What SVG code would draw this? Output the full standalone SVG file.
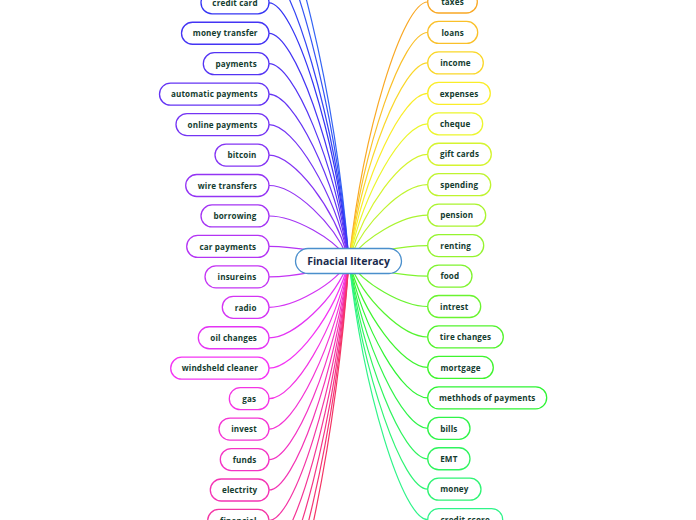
<svg xmlns="http://www.w3.org/2000/svg" width="696" height="520" viewBox="0 0 696 520">
<style>
.bg{fill:#ffffff}
.c path{fill:none;stroke-width:1.2}
.n rect{fill:#ffffff;stroke-width:1.3}
.n text{font-family:"Open Sans","Noto Sans","DejaVu Sans",sans-serif;font-weight:700;font-size:8.1px;letter-spacing:0.15px;fill:#143d30;text-anchor:middle}
#root rect{fill:#ffffff;stroke:#4a8fcc;stroke-width:1.3}
#root text{font-family:"Open Sans","Noto Sans","DejaVu Sans",sans-serif;font-weight:700;font-size:10.5px;fill:#1a2b4c;text-anchor:middle}
</style>
<rect class="bg" x="0" y="0" width="696" height="520"/>
<g id="connectors" class="c">
<path stroke="hsl(225,90%,58%)" d="M269 -88.6C290 -88.6 335 86.2 349 261"/>
<path stroke="hsl(230,90%,58%)" d="M269 -58.1C290 -58.1 335 101.5 349 261"/>
<path stroke="hsl(235,90%,58%)" d="M269 -27.7C290 -27.7 335 116.7 349 261"/>
<path stroke="hsl(240,90%,58%)" d="M269 2.8C294 2.8 335 131.9 349 261"/>
<path stroke="hsl(245,90%,58%)" d="M269 33.3C294 33.3 335 147.1 349 261"/>
<path stroke="hsl(250,90%,58%)" d="M269 63.7C294 63.7 335 162.4 349 261"/>
<path stroke="hsl(255,90%,58%)" d="M269 94.2C294 94.2 335 177.6 349 261"/>
<path stroke="hsl(260,90%,58%)" d="M269 124.6C294 124.6 335 192.8 349 261"/>
<path stroke="hsl(265,90%,58%)" d="M269 155.1C294 155.1 335 208 349 261"/>
<path stroke="hsl(270,90%,58%)" d="M269 185.5C294 185.5 335 223.3 349 261"/>
<path stroke="hsl(275,90%,58%)" d="M269 216C294 216 335 238.5 349 261"/>
<path stroke="hsl(280,90%,58%)" d="M269 246.4C294 246.4 335 253.7 349 261"/>
<path stroke="hsl(285,90%,58%)" d="M269 276.9C294 276.9 335 268.9 349 261"/>
<path stroke="hsl(290,90%,58%)" d="M269 307.3C294 307.3 335 284.2 349 261"/>
<path stroke="hsl(295,90%,58%)" d="M269 337.8C294 337.8 335 299.4 349 261"/>
<path stroke="hsl(300,90%,58%)" d="M269 368.2C294 368.2 335 314.6 349 261"/>
<path stroke="hsl(305,90%,58%)" d="M269 398.7C294 398.7 335 329.8 349 261"/>
<path stroke="hsl(310,90%,58%)" d="M269 429.1C294 429.1 335 345.1 349 261"/>
<path stroke="hsl(315,90%,58%)" d="M269 459.6C294 459.6 335 360.3 349 261"/>
<path stroke="hsl(320,90%,58%)" d="M269 490C294 490 335 375.5 349 261"/>
<path stroke="hsl(325,90%,58%)" d="M269 520.5C294 520.5 335 390.7 349 261"/>
<path stroke="hsl(330,90%,58%)" d="M269 550.9C294 550.9 335 406 349 261"/>
<path stroke="hsl(335,90%,58%)" d="M269 581.4C294 581.4 335 421.2 349 261"/>
<path stroke="hsl(340,90%,58%)" d="M269 611.8C294 611.8 335 436.4 349 261"/>
<path stroke="hsl(345,90%,58%)" d="M269 642.3C294 642.3 335 451.6 349 261"/>
<path stroke="hsl(37,95%,56%)" d="M427.7 2C402.7 2 363 131.5 349 261"/>
<path stroke="hsl(43.5,95%,57%)" d="M427.7 32.5C402.7 32.5 363 146.7 349 261"/>
<path stroke="hsl(50,95%,57%)" d="M427.7 62.9C402.7 62.9 363 162 349 261"/>
<path stroke="hsl(56.5,95%,57%)" d="M427.7 93.4C402.7 93.4 363 177.2 349 261"/>
<path stroke="hsl(63,92%,57%)" d="M427.7 123.8C402.7 123.8 363 192.4 349 261"/>
<path stroke="hsl(69.5,90%,57%)" d="M427.7 154.3C402.7 154.3 363 207.6 349 261"/>
<path stroke="hsl(76,90%,57%)" d="M427.7 184.7C402.7 184.7 363 222.9 349 261"/>
<path stroke="hsl(82.5,90%,57%)" d="M427.7 215.2C402.7 215.2 363 238.1 349 261"/>
<path stroke="hsl(89,90%,57%)" d="M427.7 245.6C402.7 245.6 363 253.3 349 261"/>
<path stroke="hsl(95.5,90%,57%)" d="M427.7 276.1C402.7 276.1 363 268.5 349 261"/>
<path stroke="hsl(102,90%,57%)" d="M427.7 306.5C402.7 306.5 363 283.8 349 261"/>
<path stroke="hsl(108.5,90%,57%)" d="M427.7 337C402.7 337 363 299 349 261"/>
<path stroke="hsl(115,90%,57%)" d="M427.7 367.4C402.7 367.4 363 314.2 349 261"/>
<path stroke="hsl(121.5,90%,57%)" d="M427.7 397.9C402.7 397.9 363 329.4 349 261"/>
<path stroke="hsl(128,90%,57%)" d="M427.7 428.3C402.7 428.3 363 344.7 349 261"/>
<path stroke="hsl(134.5,90%,57%)" d="M427.7 458.8C402.7 458.8 363 359.9 349 261"/>
<path stroke="hsl(141,90%,57%)" d="M427.7 489.2C402.7 489.2 363 375.1 349 261"/>
<path stroke="hsl(147.5,90%,57%)" d="M427.7 519.7C402.7 519.7 363 390.3 349 261"/>
</g>
<g id="n-credit-card" class="n"><rect x="201" y="-8.2" width="68" height="22" rx="11" stroke="hsl(240,90%,58%)"/><text x="235" y="6">credit card</text></g>
<g id="n-money-transfer" class="n"><rect x="181.5" y="22.25" width="87.5" height="22" rx="11" stroke="hsl(245,90%,58%)"/><text x="225.25" y="36.45">money transfer</text></g>
<g id="n-payments" class="n"><rect x="203.3" y="52.7" width="65.7" height="22" rx="11" stroke="hsl(250,90%,58%)"/><text x="236.15" y="66.9">payments</text></g>
<g id="n-automatic-payments" class="n"><rect x="159.5" y="83.15" width="109.5" height="22" rx="11" stroke="hsl(255,90%,58%)"/><text x="214.25" y="97.35">automatic payments</text></g>
<g id="n-online-payments" class="n"><rect x="176" y="113.6" width="93" height="22" rx="11" stroke="hsl(260,90%,58%)"/><text x="222.5" y="127.8">online payments</text></g>
<g id="n-bitcoin" class="n"><rect x="215" y="144.05" width="54" height="22" rx="11" stroke="hsl(265,90%,58%)"/><text x="242" y="158.25">bitcoin</text></g>
<g id="n-wire-transfers" class="n"><rect x="185.7" y="174.5" width="83.3" height="22" rx="11" stroke="hsl(270,90%,58%)"/><text x="227.35" y="188.7">wire transfers</text></g>
<g id="n-borrowing" class="n"><rect x="201" y="204.95" width="68" height="22" rx="11" stroke="hsl(275,90%,58%)"/><text x="235" y="219.15">borrowing</text></g>
<g id="n-car-payments" class="n"><rect x="186.7" y="235.4" width="82.3" height="22" rx="11" stroke="hsl(280,90%,58%)"/><text x="227.85" y="249.6">car payments</text></g>
<g id="n-insureins" class="n"><rect x="205" y="265.85" width="64" height="22" rx="11" stroke="hsl(285,90%,58%)"/><text x="237" y="280.05">insureins</text></g>
<g id="n-radio" class="n"><rect x="222.3" y="296.3" width="46.7" height="22" rx="11" stroke="hsl(290,90%,58%)"/><text x="245.65" y="310.5">radio</text></g>
<g id="n-oil-changes" class="n"><rect x="198.3" y="326.75" width="70.7" height="22" rx="11" stroke="hsl(295,90%,58%)"/><text x="233.65" y="340.95">oil changes</text></g>
<g id="n-windsheld-cleaner" class="n"><rect x="170.7" y="357.2" width="98.3" height="22" rx="11" stroke="hsl(300,90%,58%)"/><text x="219.85" y="371.4">windsheld cleaner</text></g>
<g id="n-gas" class="n"><rect x="229.3" y="387.65" width="39.7" height="22" rx="11" stroke="hsl(305,90%,58%)"/><text x="249.15" y="401.85">gas</text></g>
<g id="n-invest" class="n"><rect x="219" y="418.1" width="50" height="22" rx="11" stroke="hsl(310,90%,58%)"/><text x="244" y="432.3">invest</text></g>
<g id="n-funds" class="n"><rect x="220.3" y="448.55" width="48.7" height="22" rx="11" stroke="hsl(315,90%,58%)"/><text x="244.65" y="462.75">funds</text></g>
<g id="n-electrity" class="n"><rect x="210.3" y="479" width="58.7" height="22" rx="11" stroke="hsl(320,90%,58%)"/><text x="239.65" y="493.2">electrity</text></g>
<g id="n-financial" class="n"><rect x="207.7" y="509.45" width="61.3" height="22" rx="11" stroke="hsl(325,90%,58%)"/><text x="238.35" y="523.65">financial</text></g>
<g id="n-taxes" class="n"><rect x="427.7" y="-9" width="49.6" height="22" rx="11" stroke="hsl(37,95%,56%)"/><text x="452.5" y="5.2">taxes</text></g>
<g id="n-loans" class="n"><rect x="427.7" y="21.45" width="50" height="22" rx="11" stroke="hsl(43.5,95%,57%)"/><text x="452.7" y="35.65">loans</text></g>
<g id="n-income" class="n"><rect x="427.7" y="51.9" width="55.6" height="22" rx="11" stroke="hsl(50,95%,57%)"/><text x="455.5" y="66.1">income</text></g>
<g id="n-expenses" class="n"><rect x="427.7" y="82.35" width="62.6" height="22" rx="11" stroke="hsl(56.5,95%,57%)"/><text x="459" y="96.55">expenses</text></g>
<g id="n-cheque" class="n"><rect x="427.7" y="112.8" width="55" height="22" rx="11" stroke="hsl(63,92%,57%)"/><text x="455.2" y="127">cheque</text></g>
<g id="n-gift-cards" class="n"><rect x="427.7" y="143.25" width="63.6" height="22" rx="11" stroke="hsl(69.5,90%,57%)"/><text x="459.5" y="157.45">gift cards</text></g>
<g id="n-spending" class="n"><rect x="427.7" y="173.7" width="63" height="22" rx="11" stroke="hsl(76,90%,57%)"/><text x="459.2" y="187.9">spending</text></g>
<g id="n-pension" class="n"><rect x="427.7" y="204.15" width="58" height="22" rx="11" stroke="hsl(82.5,90%,57%)"/><text x="456.7" y="218.35">pension</text></g>
<g id="n-renting" class="n"><rect x="427.7" y="234.6" width="56" height="22" rx="11" stroke="hsl(89,90%,57%)"/><text x="455.7" y="248.8">renting</text></g>
<g id="n-food" class="n"><rect x="427.7" y="265.05" width="44.3" height="22" rx="11" stroke="hsl(95.5,90%,57%)"/><text x="449.85" y="279.25">food</text></g>
<g id="n-intrest" class="n"><rect x="427.7" y="295.5" width="53" height="22" rx="11" stroke="hsl(102,90%,57%)"/><text x="454.2" y="309.7">intrest</text></g>
<g id="n-tire-changes" class="n"><rect x="427.7" y="325.95" width="75.6" height="22" rx="11" stroke="hsl(108.5,90%,57%)"/><text x="465.5" y="340.15">tire changes</text></g>
<g id="n-mortgage" class="n"><rect x="427.7" y="356.4" width="65.6" height="22" rx="11" stroke="hsl(115,90%,57%)"/><text x="460.5" y="370.6">mortgage</text></g>
<g id="n-methhods-of-payments" class="n"><rect x="427.7" y="386.85" width="119" height="22" rx="11" stroke="hsl(121.5,90%,57%)"/><text x="487.2" y="401.05">methhods of payments</text></g>
<g id="n-bills" class="n"><rect x="427.7" y="417.3" width="42.3" height="22" rx="11" stroke="hsl(128,90%,57%)"/><text x="448.85" y="431.5">bills</text></g>
<g id="n-emt" class="n"><rect x="427.7" y="447.75" width="42.3" height="22" rx="11" stroke="hsl(134.5,90%,57%)"/><text x="448.85" y="461.95">EMT</text></g>
<g id="n-money" class="n"><rect x="427.7" y="478.2" width="53.3" height="22" rx="11" stroke="hsl(141,90%,57%)"/><text x="454.35" y="492.4">money</text></g>
<g id="n-credit-score" class="n"><rect x="427.7" y="508.65" width="75" height="22" rx="11" stroke="hsl(147.5,90%,57%)"/><text x="465.2" y="522.85">credit score</text></g>
<g id="root"><rect x="295.5" y="248.5" width="106" height="25" rx="12.5"/><text x="348.5" y="264.6">Finacial literacy</text></g>
</svg>
